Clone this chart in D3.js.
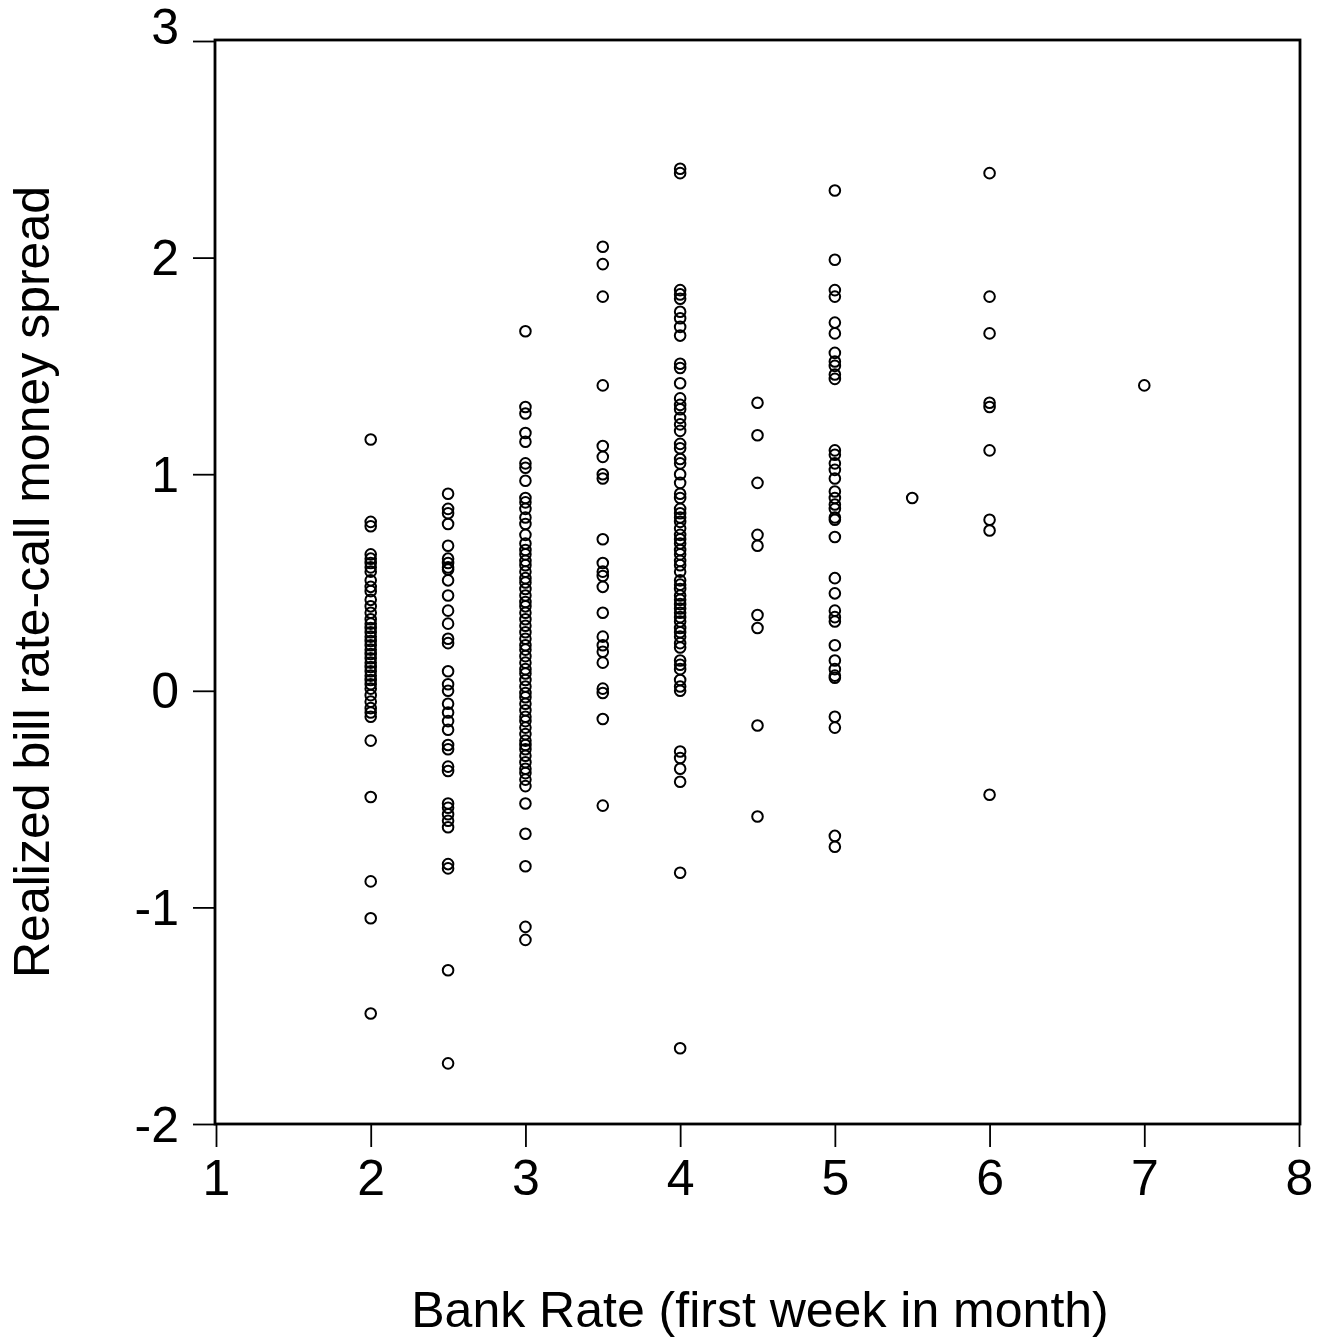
<!DOCTYPE html>
<html>
<head>
<meta charset="utf-8">
<script src="https://cdn.jsdelivr.net/npm/d3@7"></script>
<style>
  html, body { margin: 0; padding: 0; background: #fff; }
  text { font-family: "Liberation Sans", Arial, Helvetica, sans-serif; fill: #000; }
</style>
</head>
<body>
<svg id="chart" width="1321" height="1343"></svg>
<script>
// Bank Rate categories and realized spreads
const bankRates = [2, 2.5, 3, 3.5, 4, 4.5, 5, 5.5, 6, 7];
const spread_2 = [1.16, 0.78, 0.76, 0.63, 0.61, 0.59, 0.57, 0.55, 0.51, 0.48, 0.46, 0.42, 0.39, 0.36, 0.33, 0.31, 0.29, 0.27, 0.25, 0.23, 0.21, 0.19, 0.17, 0.15, 0.13, 0.11, 0.09, 0.07, 0.05, 0.03, 0.01, -0.02, -0.05, -0.08, -0.1, -0.12, -0.23, -0.49, -0.88, -1.05, -1.49];
const spread_25 = [0.91, 0.84, 0.82, 0.77, 0.67, 0.61, 0.59, 0.57, 0.56, 0.51, 0.44, 0.37, 0.31, 0.24, 0.22, 0.09, 0.03, 0.0, -0.06, -0.1, -0.14, -0.18, -0.25, -0.27, -0.35, -0.37, -0.52, -0.54, -0.57, -0.6, -0.63, -0.8, -0.82, -1.29, -1.72];
const spread_3 = [1.66, 1.31, 1.28, 1.19, 1.15, 1.05, 1.03, 0.97, 0.89, 0.87, 0.84, 0.8, 0.77, 0.72, 0.68, 0.65, 0.63, 0.6, 0.58, 0.55, 0.52, 0.5, 0.47, 0.44, 0.41, 0.39, 0.36, 0.33, 0.3, 0.27, 0.24, 0.21, 0.19, 0.16, 0.13, 0.1, 0.08, 0.05, 0.02, -0.01, -0.03, -0.06, -0.09, -0.12, -0.14, -0.17, -0.2, -0.23, -0.25, -0.27, -0.3, -0.33, -0.36, -0.38, -0.41, -0.44, -0.52, -0.66, -0.81, -1.09, -1.15];
const spread_35 = [2.05, 1.97, 1.82, 1.41, 1.13, 1.08, 1.0, 0.98, 0.7, 0.59, 0.55, 0.53, 0.48, 0.36, 0.25, 0.21, 0.18, 0.13, 0.01, -0.01, -0.13, -0.53];
const spread_4 = [2.41, 2.39, 1.85, 1.83, 1.81, 1.75, 1.72, 1.68, 1.64, 1.51, 1.49, 1.42, 1.35, 1.32, 1.3, 1.26, 1.23, 1.2, 1.14, 1.12, 1.07, 1.05, 1.0, 0.96, 0.91, 0.89, 0.84, 0.82, 0.8, 0.78, 0.75, 0.72, 0.7, 0.68, 0.65, 0.63, 0.6, 0.58, 0.55, 0.51, 0.49, 0.47, 0.44, 0.42, 0.4, 0.38, 0.36, 0.34, 0.32, 0.29, 0.27, 0.25, 0.22, 0.2, 0.14, 0.12, 0.1, 0.05, 0.02, 0.0, -0.28, -0.31, -0.36, -0.42, -0.84, -1.65];
const spread_45 = [1.33, 1.18, 0.96, 0.72, 0.67, 0.35, 0.29, -0.16, -0.58];
const spread_5 = [2.31, 1.99, 1.85, 1.82, 1.7, 1.65, 1.56, 1.52, 1.5, 1.46, 1.44, 1.11, 1.09, 1.05, 1.02, 0.98, 0.92, 0.89, 0.86, 0.84, 0.8, 0.79, 0.71, 0.52, 0.45, 0.37, 0.34, 0.32, 0.21, 0.14, 0.1, 0.07, 0.06, -0.12, -0.17, -0.67, -0.72];
const spread_55 = [0.89];
const spread_6 = [2.39, 1.82, 1.65, 1.33, 1.31, 1.11, 0.79, 0.74, -0.48];
const spread_7 = [1.41];
const spreadSeries = [spread_2, spread_25, spread_3, spread_35, spread_4, spread_45, spread_5, spread_55, spread_6, spread_7];

const xTicks = [1, 2, 3, 4, 5, 6, 7, 8];
const yTicks = [-2, -1, 0, 1, 2, 3];
const yTickLabels = ["-2", "-1", "0", "1", "2", "3"];
const xTitle = "Bank Rate (first week in month)";
const yTitle = "Realized bill rate-call money spread";

const points = [];
bankRates.forEach((r, i) => spreadSeries[i].forEach(v => points.push({ x: r, y: v })));

const svg = d3.select("#chart");
const mLeft = 216, mRight = 1299, mTop = 41, mBottom = 1124;
const x = d3.scaleLinear().domain([1, 8]).range([mLeft, mRight]);
const y = d3.scaleLinear().domain([-2, 3]).range([mBottom, mTop]);

// frame
svg.append("rect")
  .attr("x", mLeft - 1).attr("y", mTop - 1)
  .attr("width", mRight - mLeft + 2).attr("height", mBottom - mTop + 1)
  .attr("fill", "none").attr("stroke", "#000").attr("stroke-width", 2.8);

// y axis
const yAxis = svg.append("g").attr("transform", `translate(${mLeft},0)`)
  .call(d3.axisLeft(y).tickValues(yTicks).tickSize(23).tickPadding(14)
    .tickFormat((d, i) => yTickLabels[i]));
yAxis.select(".domain").remove();
yAxis.selectAll(".tick line").attr("stroke", "#000").attr("stroke-width", 1.8);
yAxis.selectAll(".tick text")
  .attr("font-size", 50).attr("font-family", "Liberation Sans, Arial, sans-serif")
  .attr("dy", (d) => d === 3 ? "0.05em" : "0.34em");

// x axis
const xAxis = svg.append("g").attr("transform", `translate(0,${mBottom})`)
  .call(d3.axisBottom(x).tickValues(xTicks).tickSize(23).tickPadding(12).tickFormat(d => String(d)));
xAxis.select(".domain").remove();
xAxis.selectAll(".tick line").attr("stroke", "#000").attr("stroke-width", 1.8);
xAxis.selectAll(".tick text")
  .attr("font-size", 50).attr("font-family", "Liberation Sans, Arial, sans-serif");

// points
svg.append("g").selectAll("circle").data(points).join("circle")
  .attr("cx", d => x(d.x)).attr("cy", d => y(d.y)).attr("r", 5.3)
  .attr("fill", "none").attr("stroke", "#000").attr("stroke-width", 2);

// titles
svg.append("text").attr("x", 760).attr("y", 1327)
  .attr("text-anchor", "middle").attr("font-size", 50).text(xTitle);
svg.append("text").attr("transform", "translate(49,582) rotate(-90)")
  .attr("text-anchor", "middle").attr("font-size", 50).text(yTitle);
</script>
</body>
</html>
